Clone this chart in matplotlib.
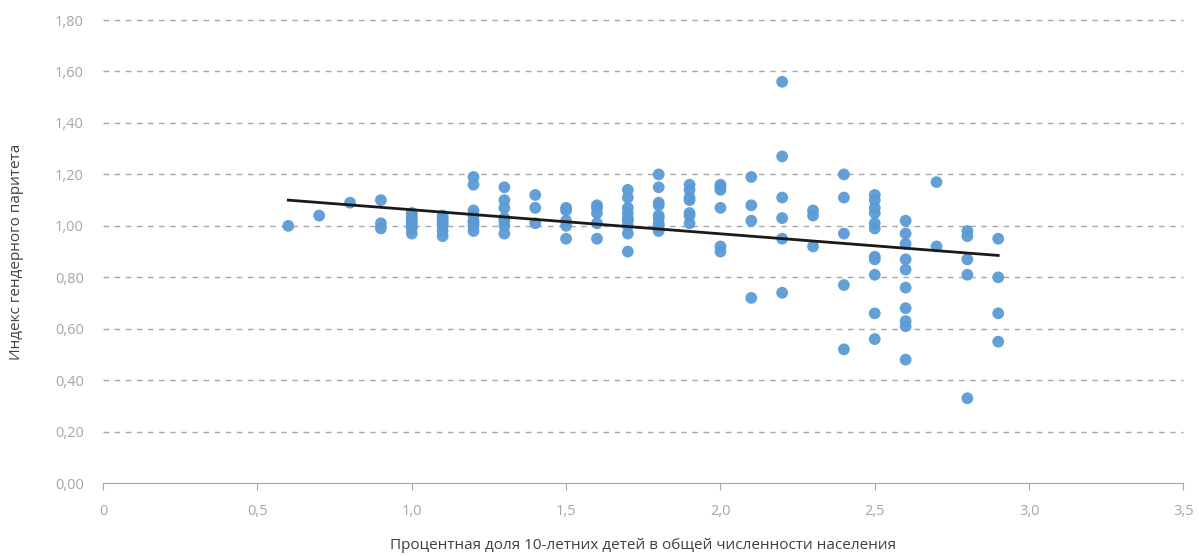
import matplotlib
matplotlib.use("Agg")
import matplotlib.pyplot as plt
import numpy as np

plt.rcParams['font.family'] = ['Open Sans', 'DejaVu Sans']

# share of 10-year-olds in population (%) -> gender parity index values
share = [0.6, 0.7, 0.8, 0.9, 1.0, 1.1, 1.2, 1.3, 1.4, 1.5, 1.6, 1.7, 1.8,
         1.9, 2.0, 2.1, 2.2, 2.3, 2.4, 2.5, 2.6, 2.7, 2.8, 2.9]
parity = [
    [1.00],
    [1.04],
    [1.09],
    [1.10, 1.01, 0.99],
    [1.05, 1.04, 1.03, 1.02, 1.01, 1.00, 0.99, 0.97],
    [1.04, 1.03, 1.02, 1.01, 1.00, 0.98, 0.96],
    [1.19, 1.16, 1.06, 1.04, 1.02, 1.01, 1.00, 0.98],
    [1.15, 1.10, 1.07, 1.03, 1.02, 1.00, 0.97],
    [1.12, 1.07, 1.01],
    [1.07, 1.06, 1.02, 1.00, 0.95],
    [1.08, 1.07, 1.05, 1.01, 0.95],
    [1.14, 1.11, 1.07, 1.05, 1.03, 1.02, 1.00, 0.97, 0.90],
    [1.20, 1.15, 1.09, 1.08, 1.04, 1.03, 1.01, 1.00, 0.98],
    [1.16, 1.14, 1.11, 1.10, 1.05, 1.04, 1.01],
    [1.16, 1.15, 1.14, 1.07, 0.92, 0.90],
    [1.19, 1.08, 1.02, 0.72],
    [1.56, 1.27, 1.11, 1.03, 0.95, 0.74],
    [1.06, 1.04, 0.92],
    [1.20, 1.11, 0.97, 0.77, 0.52],
    [1.12, 1.10, 1.07, 1.05, 1.01, 0.99, 0.88, 0.87, 0.81, 0.66, 0.56],
    [1.02, 0.97, 0.93, 0.87, 0.83, 0.76, 0.68, 0.63, 0.61, 0.48],
    [1.17, 0.92],
    [0.98, 0.96, 0.87, 0.81, 0.33],
    [0.95, 0.80, 0.66, 0.55],
]

# trend line as drawn in the source (end points)
trend_x = [0.6, 2.9]
trend_y = [1.10, 0.885]

x_ticks = [0, 0.5, 1.0, 1.5, 2.0, 2.5, 3.0, 3.5]
x_labels = ["0", "0,5", "1,0", "1,5", "2,0", "2,5", "3,0", "3,5"]
y_ticks = [0, 0.2, 0.4, 0.6, 0.8, 1.0, 1.2, 1.4, 1.6, 1.8]
y_labels = ["0,00", "0,20", "0,40", "0,60", "0,80", "1,00", "1,20", "1,40", "1,60", "1,80"]

xs = np.concatenate([[s] * len(p) for s, p in zip(share, parity)])
ys = np.concatenate(parity)

fig = plt.figure(figsize=(11.99, 5.56), dpi=100)
ax = fig.add_axes([0.086, 0.131, 0.901, 0.833])

ax.scatter(xs, ys, s=72, color='#5B9BD5', alpha=0.95, edgecolors='none', zorder=3)
ax.plot(trend_x, trend_y, color='#1a1a1a', linewidth=2, zorder=4)

ax.set_xlim(0, 3.5)
ax.set_ylim(0, 1.8)
ax.set_xticks(x_ticks)
ax.set_xticklabels(x_labels)
ax.set_yticks(y_ticks)
ax.set_yticklabels(y_labels)

for yv in y_ticks[1:]:
    ax.axhline(yv, color='#a6a6a6', linewidth=1, linestyle=(0, (4, 4)), zorder=1, clip_on=False)

for side in ['top', 'right', 'left']:
    ax.spines[side].set_visible(False)
ax.spines['bottom'].set_color('#a6a6a6')

ax.tick_params(axis='x', colors='#a6a6a6', length=5, direction='out', pad=10, labelsize=10.5)
ax.tick_params(axis='y', colors='#a6a6a6', length=0, pad=14, labelsize=10.5)

ax.set_xlabel("Процентная доля 10-летних детей в общей численности населения",
              fontsize=11, color='#404040', labelpad=14)
ax.set_ylabel("Индекс гендерного паритета", fontsize=11, color='#404040', labelpad=22)

fig.savefig("out.png", dpi=100)
